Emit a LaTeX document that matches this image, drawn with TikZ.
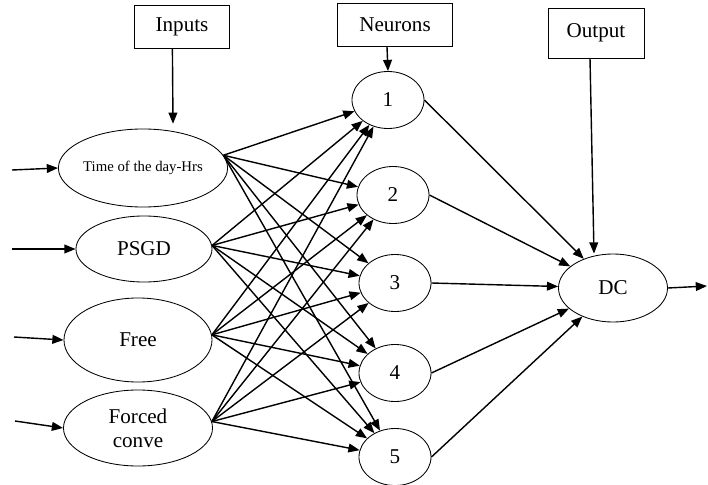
\documentclass[tikz,border=0pt]{standalone}
\usepackage{fontspec}
\setmainfont{Liberation Serif}
\usetikzlibrary{arrows.meta,shapes.geometric}
\tikzset{
    input-node/.style = {draw, ellipse, line width=0.6pt, inner sep=0pt, font=\fontsize{15}{17}\selectfont, align=center},
    neuron-node/.style = {draw, ellipse, line width=0.6pt, inner sep=0pt, minimum width=1.8cm, minimum height=1.425cm, font=\fontsize{15}{17}\selectfont},
    label-box/.style = {draw, rectangle, line width=0.6pt, inner sep=2pt, minimum height=1.075cm, font=\fontsize{15}{17}\selectfont},
    link-arrow/.style = {draw, line width=1pt, -{Triangle[length=2.8mm,width=2.2mm]}},
}
\begin{document}
\begin{tikzpicture}[x=0.025cm,y=-0.025cm]
\useasboundingbox (0,0) rectangle (708,485);
\node[input-node, minimum width=3.475cm, minimum height=1.95cm, font=\fontsize{10.5}{12}\selectfont] (time) at (143,168) {Time of the day-Hrs};
\node[input-node, minimum width=3.4cm, minimum height=1.65cm] (psgd) at (144,249) {PSGD};
\node[input-node, minimum width=3.7cm, minimum height=2.1cm] (free) at (138,340) {Free};
\node[input-node, minimum width=3.725cm, minimum height=1.9cm] (forced) at (138,428) {Forced\\conve};
\node[neuron-node] (n1) at (388,100) {1};
\node[neuron-node] (n2) at (393,195) {2};
\node[neuron-node] (n3) at (395,283) {3};
\node[neuron-node] (n4) at (395,373) {4};
\node[neuron-node] (n5) at (395,457) {5};
\node[neuron-node, minimum width=2.725cm, minimum height=1.7cm] (dc) at (613,288) {DC};
\node[label-box, minimum width=2.375cm] (inputs) at (182,27) {Inputs};
\node[label-box, minimum width=2.875cm] (neurons) at (395,25) {Neurons};
\node[label-box, minimum width=2.4cm, minimum height=1.25cm] (output) at (596,33) {Output};
\coordinate (in-time) at (12,170);
\coordinate (in-psgd) at (12,249);
\coordinate (in-free) at (14,337);
\coordinate (in-forced) at (15,421);
\coordinate (out-dc) at (707,286);
\draw[link-arrow] (in-time) -- (time.west);
\draw[link-arrow] (in-psgd) -- (psgd.west);
\draw[link-arrow] (in-free) -- (free.west);
\draw[link-arrow] (in-forced) -- (forced.west);
\draw[link-arrow] ([xshift=-0.24cm]inputs.south) -- ([xshift=0.75cm, yshift=0.12cm]time.north);
\draw[link-arrow] ([xshift=-0.2cm]neurons.south) -- (n1.north);
\draw[link-arrow] ([xshift=-0.15cm]output.south) -- ([xshift=-0.475cm]dc.north);
\foreach \src/\ang in {time/9, psgd/3, free/4, forced/5}
    \foreach \dst in {n1, n2, n3, n4, n5}
        \draw[link-arrow] (\src.\ang) -- (\dst);
\foreach \dst in {n1, n2, n3, n4, n5}
    \draw[link-arrow] (\dst.east) -- (dc);
\draw[link-arrow] (dc.east) -- (out-dc);
\end{tikzpicture}
\end{document}
